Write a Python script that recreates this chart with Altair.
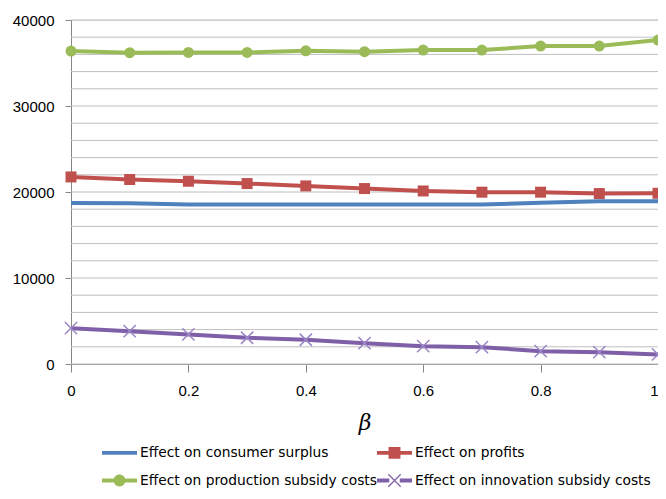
import altair as alt
import pandas as pd

beta = [0.0, 0.1, 0.2, 0.3, 0.4, 0.5, 0.6, 0.7, 0.8, 0.9, 1.0]
consumer = [18720, 18700, 18540, 18540, 18540, 18540, 18540, 18540, 18750, 18920, 18920]
profits = [21750, 21450, 21250, 20980, 20710, 20400, 20120, 19980, 19980, 19820, 19850]
production = [36390, 36200, 36230, 36230, 36420, 36310, 36500, 36500, 36970, 36970, 37670]
innovation = [4170, 3820, 3440, 3050, 2820, 2420, 2070, 1960, 1490, 1370, 1110]

series_names = [
    "Effect on consumer surplus",
    "Effect on profits",
    "Effect on production subsidy costs",
    "Effect on innovation subsidy costs",
]
series_values = [consumer, profits, production, innovation]
colors = ["#4F81BD", "#C0504D", "#9BBB59", "#7F5FA8"]

y_label_values = [0, 10000, 20000, 30000, 40000]
grid_values = list(range(0, 40001, 2000))
x_tick_values = [0, 0.2, 0.4, 0.6, 0.8, 1.0]

rows = []
for name, vals in zip(series_names, series_values):
    for b, v in zip(beta, vals):
        rows.append({"beta": b, "value": v, "series": name})
df = pd.DataFrame(rows)
grid_df = pd.DataFrame({"g": grid_values})

# legend symbols: line + marker, as custom paths
line_full = "M-1,-0.11H1V0.11H-1Z"
line_split = "M-1,-0.11H-0.3V0.11H-1Z M0.3,-0.11H1V0.11H0.3Z"
legend_shapes = [
    line_full,
    line_full + " M-0.34,-0.34H0.34V0.34H-0.34Z",
    line_split + " M-0.34,0A0.34,0.34 0 1,1 0.34,0A0.34,0.34 0 1,1 -0.34,0Z",
    line_split + " M-0.38,-0.33L-0.33,-0.38L0.38,0.33L0.33,0.38Z M-0.38,0.33L0.33,-0.38L0.38,-0.33L-0.33,0.38Z",
]

# legend fills column by column: order entries so rows read as in the original
legend_order = [0, 2, 1, 3]
legend_domain = [series_names[i] for i in legend_order]
legend_colors = [colors[i] for i in legend_order]
legend_paths = [legend_shapes[i] for i in legend_order]

x_scale = alt.Scale(domain=[0, 1], nice=False)
y_scale = alt.Scale(domain=[0, 40000], nice=False)
color_scale = alt.Scale(domain=legend_domain, range=legend_colors)

tick_font = "Liberation Sans"

y_axis = alt.Axis(
    values=y_label_values,
    format="d",
    title=None,
    labelFont=tick_font,
    labelFontSize=15,
    labelColor="#000000",
    labelPadding=11,
    tickSize=6,
    tickColor="#868686",
    domainColor="#868686",
    grid=False,
)
x_axis = alt.Axis(
    values=x_tick_values,
    format="~g",
    title="β",
    titleFontStyle="italic",
    titleFontWeight="normal",
    titleFontSize=22,
    titleFont="DejaVu Serif",
    titleColor="#000000",
    titlePadding=14,
    labelFont=tick_font,
    labelFontSize=15,
    labelColor="#000000",
    labelPadding=11,
    labelAlign={"condition": {"test": "datum.value == 1", "value": "right"}, "value": "center"},
    tickSize=8,
    tickColor="#868686",
    domainColor="#868686",
    grid=False,
    labelFlush=False,
)

X = alt.X("beta:Q", scale=x_scale, axis=x_axis)
Y = alt.Y("value:Q", scale=y_scale, axis=y_axis)

grid = alt.Chart(grid_df).mark_rule(color="#BFBFBF", strokeWidth=1).encode(
    y=alt.Y("g:Q", scale=y_scale, axis=y_axis),
    x=alt.value(0),
    x2=alt.value(590),
)

layers = [grid]
for name, col in zip(series_names, colors):
    layers.append(
        alt.Chart(df).transform_filter(alt.datum.series == name)
        .mark_line(strokeWidth=4, color=col).encode(x=X, y=Y)
    )

red_pts = alt.Chart(df).transform_filter(
    alt.datum.series == series_names[1]
).mark_point(shape="square", filled=True, size=121, opacity=1, color=colors[1]).encode(x=X, y=Y)
green_pts = alt.Chart(df).transform_filter(
    alt.datum.series == series_names[2]
).mark_point(shape="circle", filled=True, size=120, opacity=1, color=colors[2]).encode(x=X, y=Y)
purple_pts = alt.Chart(df).transform_filter(
    alt.datum.series == series_names[3]
).mark_point(
    shape="M-1,-1L1,1M-1,1L1,-1", filled=False, size=150, opacity=1,
    color="#9C86C6", strokeWidth=1.5,
).encode(x=X, y=Y)
layers += [red_pts, green_pts, purple_pts]

# legend-only layer: no rows survive the filter, legend comes from the explicit scale domain
legend_layer = alt.Chart(df).transform_filter(
    alt.datum.beta > 5
).mark_point(filled=True, opacity=1).encode(
    x=X,
    y=Y,
    color=alt.Color(
        "series:N",
        scale=color_scale,
        legend=alt.Legend(
            title=None,
            orient="none",
            legendX=31,
            legendY=415,
            columns=2,
            columnPadding=0,
            rowPadding=3,
            symbolSize=1225,
            symbolStrokeWidth=0,
            symbolOpacity=1,
            labelFont="DejaVu Sans",
            labelFontSize=13.8,
            labelColor="#000000",
            labelOffset=3,
            labelLimit=400,
        ),
    ),
    shape=alt.Shape("series:N", scale=alt.Scale(domain=legend_domain, range=legend_paths)),
)
layers.append(legend_layer)

chart = alt.layer(*layers).properties(
    width=587,
    height=344,
    autosize=alt.AutoSizeParams(type="none"),
    padding={"left": 63, "top": 12, "right": 0, "bottom": 126},
).configure_view(stroke=None).configure(background="#FFFFFF")

chart.save("out.html", embed_options={"renderer": "svg", "actions": False})
